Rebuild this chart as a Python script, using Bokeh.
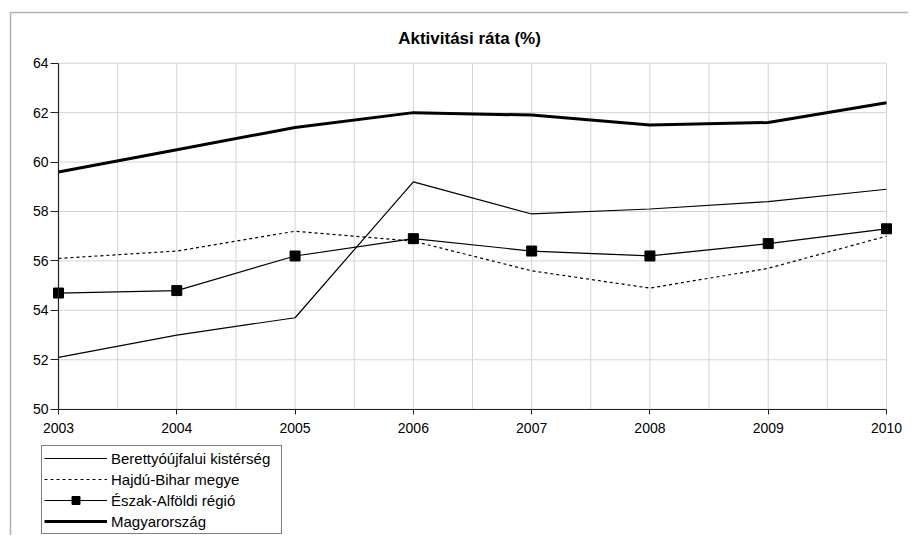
from bokeh.plotting import figure
from bokeh.models import (Range1d, FixedTicker, Legend, LegendItem, Label,
                          BoxAnnotation)
from bokeh.embed import file_html
from bokeh.resources import INLINE

# ---- data ----
years = [2003, 2004, 2005, 2006, 2007, 2008, 2009, 2010]
berettyo = [52.1, 53.0, 53.7, 59.2, 57.9, 58.1, 58.4, 58.9]
hajdu = [56.1, 56.4, 57.2, 56.8, 55.6, 54.9, 55.7, 57.0]
eszak = [54.7, 54.8, 56.2, 56.9, 56.4, 56.2, 56.7, 57.3]
magyar = [59.6, 60.5, 61.4, 62.0, 61.9, 61.5, 61.6, 62.4]
series_names = ["Berettyóújfalui kistérség", "Hajdú-Bihar megye",
                "Észak-Alföldi régió", "Magyarország"]
y_ticks = [50, 52, 54, 56, 58, 60, 62, 64]
x_grid = [2003 + 0.5 * i for i in range(15)]
chart_title = "Aktivitási ráta (%)"

FONT = "Liberation Sans"
W, H = 908, 535

# pixel layout of the plot area inside the canvas
PX_LEFT, PX_RIGHT = 58.0, 886.0
PX_TOP, PX_BOTTOM = 62.7, 408.7
x0, x1 = years[0], years[-1]
yb, yt = y_ticks[0], y_ticks[-1]
sx = (PX_RIGHT - PX_LEFT) / (x1 - x0)
sy = (PX_BOTTOM - PX_TOP) / (yt - yb)
xr = Range1d(x0 - PX_LEFT / sx, x1 + (W - PX_RIGHT) / sx)
yr = Range1d(yb - (H - PX_BOTTOM) / sy, yt + PX_TOP / sy)

p = figure(width=W, height=H, output_backend="svg", toolbar_location=None,
           x_range=xr, y_range=yr,
           min_border_left=0, min_border_right=0,
           min_border_top=0, min_border_bottom=0)
p.outline_line_color = None
p.background_fill_color = "white"
p.border_fill_color = "white"
p.xgrid.grid_line_color = None
p.ygrid.grid_line_color = None

GRID = "#d4d4d4"
# vertical grid lines (every half year)
p.segment(x0=x_grid, x1=x_grid, y0=[yb] * len(x_grid), y1=[yt] * len(x_grid),
          line_color=GRID, line_width=1)
# horizontal grid lines
p.segment(x0=[x0] * len(y_ticks), x1=[x1] * len(y_ticks),
          y0=y_ticks, y1=y_ticks, line_color=GRID, line_width=1)

# axes, fixed at the plot-area edges
xa = p.xaxis[0]
xa.fixed_location = yb
xa.bounds = (x0, x1)
xa.ticker = FixedTicker(ticks=years)
xa.axis_line_color = "#222222"
xa.axis_line_width = 1.2
xa.major_tick_out = 5
xa.major_tick_in = 0
xa.minor_tick_line_color = None
xa.major_tick_line_color = "#222222"
xa.major_label_standoff = 9
xa.major_label_text_font = FONT
xa.major_label_text_font_size = "14px"
xa.major_label_text_color = "black"

ya = p.yaxis[0]
ya.fixed_location = x0
ya.bounds = (yb, yt)
ya.ticker = FixedTicker(ticks=y_ticks)
ya.axis_line_color = "#222222"
ya.axis_line_width = 1.2
ya.major_tick_out = 8
ya.major_tick_in = 0
ya.minor_tick_line_color = None
ya.major_tick_line_color = "#222222"
ya.major_label_standoff = 2
ya.major_label_text_font = FONT
ya.major_label_text_font_size = "14px"
ya.major_label_text_color = "black"

# series
r1 = p.line(years, berettyo, line_color="black", line_width=1.2)
r2 = p.line(years, hajdu, line_color="black", line_width=1.2, line_dash="3 3")
r3 = p.line(years, eszak, line_color="black", line_width=1.2)
r3m = p.scatter(years, eszak, marker="square", size=10, fill_color="black",
                line_color="black")
r4 = p.line(years, magyar, line_color="black", line_width=3)

legend = Legend(items=[
    LegendItem(label=series_names[0], renderers=[r1]),
    LegendItem(label=series_names[1], renderers=[r2]),
    LegendItem(label=series_names[2], renderers=[r3, r3m]),
    LegendItem(label=series_names[3], renderers=[r4]),
], location=(41, 1))
legend.border_line_color = "black"
legend.border_line_width = 1
legend.background_fill_color = "white"
legend.background_fill_alpha = 1
legend.padding = 2
legend.margin = 0
legend.spacing = 1
legend.glyph_height = 20
legend.glyph_width = 63
legend.label_height = 20
legend.label_standoff = 4
legend.label_width = 168
legend.label_text_font = FONT
legend.label_text_font_size = "15px"
legend.label_text_color = "black"
p.add_layout(legend, "center")

# chart title
p.add_layout(Label(x=x0 + (469 - PX_LEFT) / sx, y=yt + (PX_TOP - 38) / sy,
                   text=chart_title,
                   text_font=FONT, text_font_size="17px",
                   text_font_style="bold", text_align="center",
                   text_baseline="middle", text_color="black"))

# outer frame of the figure box
p.add_layout(BoxAnnotation(left=10, right=1200, top=12, bottom=1200,
                           left_units="canvas", right_units="canvas",
                           top_units="canvas", bottom_units="canvas",
                           fill_alpha=0, line_color="black", line_width=1.5,
                           level="overlay"))

open("out.html", "w").write(file_html(p, INLINE))
